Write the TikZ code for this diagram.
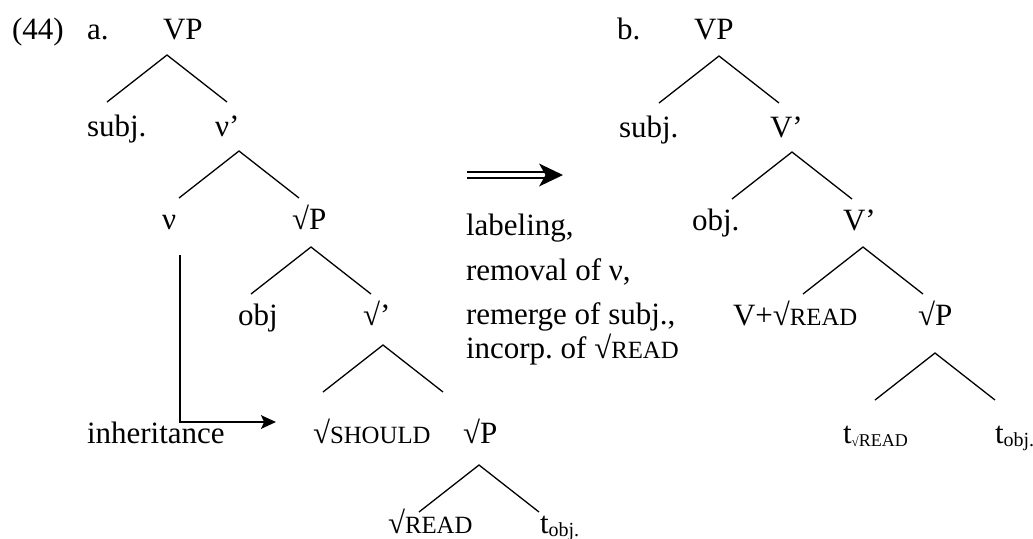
\documentclass[tikz,border=0pt]{standalone}
\usepackage{fontspec}
\setmainfont{Liberation Serif}
\usetikzlibrary{arrows.meta}
\frenchspacing

% small capitals imitated by reduced upper case
\newcommand{\smc}[1]{{\fontsize{12.4}{12.4}\selectfont #1}}
% lowered subscript for traces
\newcommand{\tsub}[1]{\raisebox{-1.6pt}{\fontsize{10}{10}\selectfont #1}}
\newcommand{\tsubread}{\raisebox{-1.6pt}{\fontsize{6.5}{6.5}\selectfont √\fontsize{9}{9}\selectfont READ}}

% a binary branching: apex at (#2,#3), arms 60 across and 47 down
\newcommand{\branching}[3]{%
  \coordinate (#1-t) at (#2,#3);
  \path (#1-t) ++(-60,47) coordinate (#1-l);
  \path (#1-t) ++(60,47) coordinate (#1-r);
  \draw[branch] (#1-l) -- (#1-t) -- (#1-r);
}

\begin{document}
\begin{tikzpicture}[x=0.5pt,y=-0.5pt,
  lbl/.style={anchor=base west,inner sep=0pt,outer sep=0pt,
              font=\fontsize{15.5}{18}\selectfont},
  branch/.style={line width=0.65pt},
  inherit/.style={line width=1.05pt,-{Stealth[length=7.5pt,width=6.8pt,inset=1.6pt]}},
  implies/.style={double,double distance=2.4pt,line width=0.65pt}]
\useasboundingbox (0,0) rectangle (1033,538);

% ---- (44a) ----
\node[lbl] (num) at (12,39) {(44)};
\node[lbl] (la) at (87,39) {a.};
\node[lbl] (aVP) at (163,39) {VP};
\node[lbl] (aSubj) at (87,136) {subj.};
\node[lbl] (aVbar) at (215,136) {ν’};
\node[lbl] (aV) at (162,229) {ν};
\node[lbl] (aRP) at (292,229) {√P};
\node[lbl] (aObj) at (238,325) {obj};
\node[lbl] (aRbar) at (363,325) {√’};
\node[lbl] (inh) at (87,443) {inheritance};
\node[lbl] (aShould) at (313,443) {√\smc{SHOULD}};
\node[lbl] (aRP2) at (463,443) {√P};
\node[lbl] (aRead) at (388,533) {√\smc{READ}};
\node[lbl] (aTobj) at (540,533) {t\tsub{obj.}};

\branching{aVP}{167}{55}
\branching{aVbar}{239}{151}
\branching{aRP}{311}{247}
\branching{aRbar}{383}{345}
\branching{aRP2}{479}{465}

% inheritance from v to the root head
\coordinate (inh-s) at (180,255);
\coordinate (inh-e) at (276,422);
\draw[inherit] (inh-s) |- (inh-e);

% ---- derivation arrow and its steps ----
\coordinate (imp-s) at (467,175);
\coordinate (imp-e) at (547,175);
\coordinate (imp-tip) at (563,175);
\draw[implies] (imp-s) -- (imp-e);
\fill (imp-tip) -- (539,163.5) -- (545.5,175) -- (539,186.5) -- cycle;

\node[lbl] (s1) at (466,235) {labeling,};
\node[lbl] (s2) at (466,280) {removal of ν,};
\node[lbl] (s3) at (466,324) {remerge of subj.,};
\node[lbl] (s4) at (466,358) {incorp. of √\smc{READ}};

% ---- (44b) ----
\node[lbl] (lb) at (617,39) {b.};
\node[lbl] (bVP) at (694,39) {VP};
\node[lbl] (bSubj) at (619,137) {subj.};
\node[lbl] (bVbar) at (770,137) {V’};
\node[lbl] (bObj) at (692,230) {obj.};
\node[lbl] (bVbar2) at (843,230) {V’};
\node[lbl] (bVR) at (733,325) {V+√\smc{READ}};
\node[lbl] (bRP) at (918,325) {√P};
\node[lbl] (bTr) at (843,443) {t\tsubread};
\node[lbl] (bTo) at (995,443) {t\tsub{obj.}};

\branching{bVP}{719}{56}
\branching{bVbar}{792}{152}
\branching{bVbar2}{863}{247}
\branching{bRP}{935}{353}
\end{tikzpicture}
\end{document}
